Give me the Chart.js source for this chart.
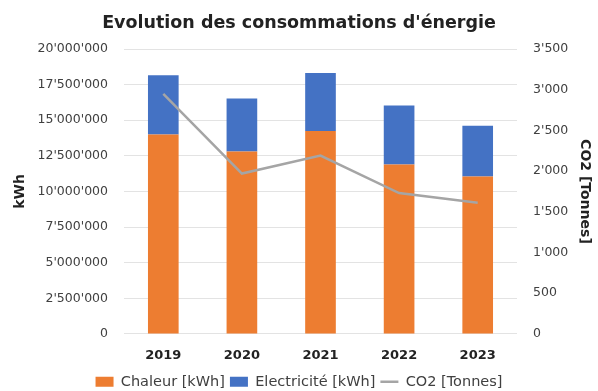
<!DOCTYPE html>
<html lang="fr">
<head>
  <meta charset="UTF-8" />
  <title>Evolution des consommations d'énergie</title>
  <script src="https://cdn.jsdelivr.net/npm/chart.js"></script>
  <style>
    html, body { margin: 0; padding: 0; background: #fff; }
    #box { width: 598px; height: 391px; }
  </style>
</head>
<body>
  <div id="box"><canvas id="graphe" width="598" height="391"></canvas></div>

  <script>
    const annees = ['2019', '2020', '2021', '2022', '2023'];
    const chaleur = [14000000, 12800000, 14250000, 11900000, 11050000];
    const electricite = [4150000, 3730000, 4060000, 4140000, 3570000];
    const co2 = [2950, 1970, 2190, 1730, 1610];

    const police = "'DejaVu Sans', sans-serif";
    const texte = '#404040';

    // séparateur de milliers à l'apostrophe (format suisse)
    function milliers(v) {
      return Math.round(v).toString().replace(/\B(?=(\d{3})+(?!\d))/g, "'");
    }

    const ctx = document.getElementById('graphe');
    const graphe = new Chart(ctx, {
      data: {
        labels: annees,
        datasets: [
          {
            type: 'bar',
            label: 'Chaleur [kWh]',
            data: chaleur,
            backgroundColor: '#ED7D31',
            yAxisID: 'y',
            stack: 'energie',
            barPercentage: 0.78,
            categoryPercentage: 0.5,
            pointStyle: 'rect',
            order: 2
          },
          {
            type: 'bar',
            label: 'Electricité [kWh]',
            data: electricite,
            backgroundColor: '#4472C4',
            yAxisID: 'y',
            stack: 'energie',
            barPercentage: 0.78,
            categoryPercentage: 0.5,
            pointStyle: 'rect',
            order: 2
          },
          {
            type: 'line',
            label: 'CO2 [Tonnes]',
            data: co2,
            borderColor: '#A5A5A5',
            backgroundColor: '#A5A5A5',
            borderWidth: 2.5,
            pointRadius: 0,
            pointStyle: 'line',
            tension: 0,
            yAxisID: 'y1',
            order: 1
          }
        ]
      },
      options: {
        responsive: false,
        animation: false,
        // la légende déborde un peu vers le bas, comme dans Excel
        layout: { padding: { top: 0, left: 0, right: 0, bottom: -8 } },
        plugins: {
          title: {
            display: true,
            text: "Evolution des consommations d'énergie",
            color: '#222',
            font: { family: police, size: 17.5, weight: 'bold' },
            padding: { top: 13, bottom: 15 }
          },
          legend: {
            position: 'bottom',
            labels: {
              color: texte,
              font: { family: police, size: 14.5 },
              usePointStyle: true,
              pointStyleWidth: 18,
              boxHeight: 10,
              padding: 5,
              sort: (a, b) => a.datasetIndex - b.datasetIndex
            }
          },
          tooltip: { enabled: false }
        },
        scales: {
          x: {
            stacked: true,
            grid: { display: false },
            border: { display: false },
            ticks: { color: '#222', font: { family: police, size: 13, weight: 'bold' }, padding: 6 }
          },
          y: {
            stacked: true,
            position: 'left',
            min: 0,
            max: 20000000,
            ticks: {
              stepSize: 2500000,
              color: texte,
              font: { family: police, size: 12.5 },
              padding: 16,
              callback: v => milliers(v)
            },
            grid: { color: '#E3E3E3', drawTicks: false },
            border: { display: false },
            title: {
              display: true,
              text: 'kWh',
              color: '#222',
              font: { family: police, size: 14, weight: 'bold' },
              padding: { top: 12, bottom: 0 }
            },
            afterFit: s => { s.width = 124; }
          },
          y1: {
            position: 'right',
            min: 0,
            max: 3500,
            ticks: {
              stepSize: 500,
              color: texte,
              font: { family: police, size: 12.5 },
              padding: 16,
              callback: v => milliers(v)
            },
            grid: { display: false, drawTicks: false },
            border: { display: false },
            title: {
              display: true,
              text: 'CO2 [Tonnes]',
              color: '#222',
              font: { family: police, size: 14, weight: 'bold' },
              padding: { top: 5, bottom: 5 }
            },
            afterFit: s => { s.width = 81; }
          }
        }
      }
    });
  </script>
</body>
</html>
